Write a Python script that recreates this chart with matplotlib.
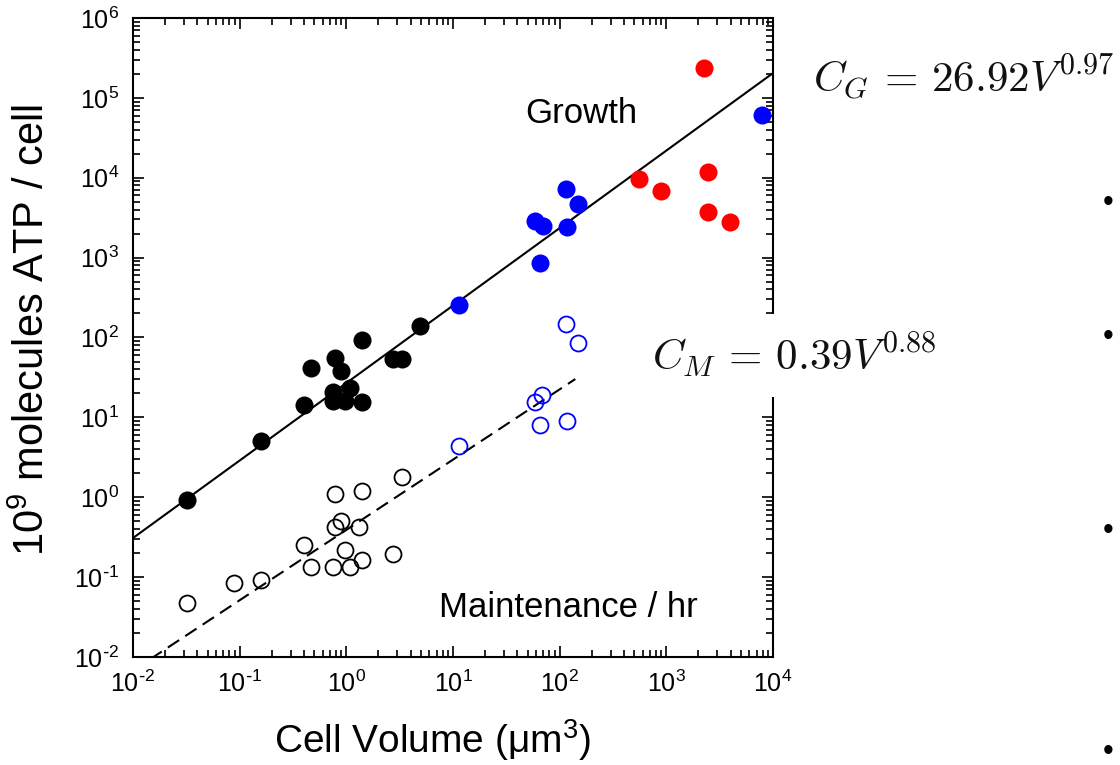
import numpy as np
import matplotlib
matplotlib.use("Agg")
import matplotlib.pyplot as plt
from matplotlib.ticker import LogLocator, NullFormatter, FuncFormatter

plt.rcParams['font.family'] = ['Liberation Sans', 'DejaVu Sans']

# growth (filled) and maintenance (open) points
black_growth_x = [0.032, 0.158, 0.40, 0.47, 0.78, 0.90, 0.75, 0.75, 0.98, 1.09, 1.40, 1.40, 2.73, 3.35, 4.86]
black_growth_y = [0.93, 5.1, 14.4, 42, 55.6, 38.5, 21, 15.9, 15.9, 23.4, 15.4, 94, 54, 54, 138]

black_maint_x = [0.032, 0.089, 0.158, 0.40, 0.47, 0.78, 0.78, 0.90, 0.75, 0.98, 1.09, 1.31, 1.40, 1.40, 2.73, 3.30]
black_maint_y = [0.048, 0.085, 0.093, 0.25, 0.135, 1.1, 0.43, 0.50, 0.133, 0.217, 0.135, 0.426, 1.19, 0.166, 0.197, 1.8]

blue_growth_x = [11.4, 65.8, 58.2, 69.6, 118, 113.6, 149, 7850]
blue_growth_y = [256, 859, 2844, 2466, 2393, 7240, 4740, 61000]

blue_maint_x = [11.4, 113.6, 149, 58.2, 68.7, 65.8, 118]
blue_maint_y = [4.43, 148, 85.5, 15.5, 19.3, 8.1, 8.9]

red_growth_x = [2233, 549, 896, 2470, 2470, 3970]
red_growth_y = [239000, 9750, 6900, 11700, 3730, 2770]

# fits C = a * V^b
growth_fit = (26.92, 0.97)
maint_fit = (0.39, 0.88)
growth_range = [1e-2, 1e4]
maint_range = [1e-2, 140]


def decade_label(v, pos):
    e = int(round(np.log10(v)))
    s = str(e).replace('-', r'\text{-}')
    return r'$\mathdefault{10^{%s}}$' % s


fig = plt.figure(figsize=(11.2, 7.65), dpi=100)
ax = fig.add_axes([0.1188, 0.1412, 0.5714, 0.8353])

vg = np.logspace(np.log10(growth_range[0]), np.log10(growth_range[1]), 200)
ax.plot(vg, growth_fit[0] * vg ** growth_fit[1], color='black', lw=1.5, zorder=2)
vm = np.logspace(np.log10(maint_range[0]), np.log10(maint_range[1]), 200)
ax.plot(vm, maint_fit[0] * vm ** maint_fit[1], color='black', lw=1.5,
        dashes=(6.5, 3.5), zorder=2)

ax.plot(black_growth_x, black_growth_y, 'o', color='black', ms=13, mew=0, zorder=3)
ax.plot(blue_growth_x, blue_growth_y, 'o', color='#0000ff', ms=13, mew=0, zorder=3)
ax.plot(red_growth_x, red_growth_y, 'o', color='#ff0000', ms=13, mew=0, zorder=3)
ax.plot(black_maint_x, black_maint_y, 'o', mfc='none', mec='black', ms=11.5, mew=1.3, zorder=3)
ax.plot(blue_maint_x, blue_maint_y, 'o', mfc='none', mec='#0000ff', ms=11.5, mew=1.3, zorder=3)

ax.set_xscale('log')
ax.set_yscale('log')
ax.set_xlim(1e-2, 1e4)
ax.set_ylim(1e-2, 1e6)

for axis in (ax.xaxis, ax.yaxis):
    axis.set_major_locator(LogLocator(base=10, numticks=20))
    axis.set_major_formatter(FuncFormatter(decade_label))
    axis.set_minor_locator(LogLocator(base=10, subs=np.arange(2, 10), numticks=100))
    axis.set_minor_formatter(NullFormatter())

ax.tick_params(which='both', direction='in', top=True, right=True, width=1.2)
ax.tick_params(which='major', length=8, labelsize=18)
ax.tick_params(which='minor', length=5)
ax.tick_params(axis='x', which='major', pad=10)
ax.tick_params(axis='y', which='major', pad=10)
for s in ax.spines.values():
    s.set_linewidth(1.5)

ax.text(0.701, 0.850, 'Growth', transform=ax.transAxes, fontsize=25,
        ha='center', va='center')
ax.text(0.681, 0.077, 'Maintenance / hr', transform=ax.transAxes, fontsize=25,
        ha='center', va='center')

fig.text(433 / 1120, 1 - 740 / 765, r'Cell Volume ($\mathdefault{μm^{3}}$)',
         fontsize=28, ha='center', va='center')
fig.text(33 / 1120, 1 - 330 / 765, r'$\mathdefault{10^{9}}$ molecules ATP / cell',
         fontsize=30, rotation=90, ha='center', va='center')

# equations pasted beside the plot
fig.text(813 / 1120, 1 - 92 / 765, r'$C_G \,=\, 26.92V^{0.97}$', fontsize=31,
         math_fontfamily='cm', color='#111111', ha='left', va='baseline')
fig.text(652 / 1120, 1 - 370 / 765, r'$C_M \,=\, 0.39V^{0.88}$', fontsize=31,
         math_fontfamily='cm', color='#111111', ha='left', va='baseline',
         bbox=dict(facecolor='white', edgecolor='none', pad=12))

for by in [203, 337, 531, 752]:
    fig.text(1108 / 1120, 1 - by / 765, '•', fontsize=22, ha='center', va='center')

fig.savefig('out.png', dpi=100)
